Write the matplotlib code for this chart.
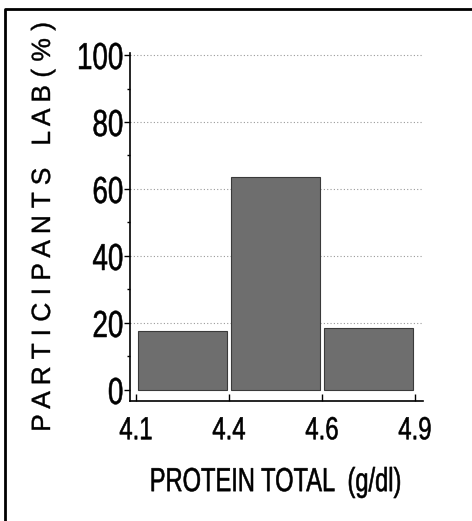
import numpy as np
import matplotlib
matplotlib.use("Agg")
import matplotlib.pyplot as plt
from matplotlib.lines import Line2D
from matplotlib.ticker import MultipleLocator
from matplotlib.patheffects import AbstractPathEffect
from matplotlib.transforms import Affine2D

# histogram of participant labs (%)
bin_edges = ["4.1", "4.4", "4.6", "4.9"]
percent = [17.6, 63.6, 18.5]
y_ticks = [0, 20, 40, 60, 80, 100]


class Narrow(AbstractPathEffect):
    """squeeze text horizontally (narrow typeface look), with a slightly heavier stroke"""

    def __init__(self, sx, anchor="center", lw=0.4):
        super().__init__()
        self.sx = sx
        self.anchor = anchor
        self.lw = lw

    def draw_path(self, renderer, gc, tpath, affine, rgbFace=None):
        ext = tpath.get_extents()
        if self.anchor == "right":
            cx = ext.x1
        elif self.anchor == "left":
            cx = ext.x0
        else:
            cx = (ext.x0 + ext.x1) / 2
        squeeze = Affine2D().translate(-cx, 0).scale(self.sx, 1).translate(cx, 0)
        gc0 = renderer.new_gc()
        gc0.copy_properties(gc)
        gc0.set_linewidth(self.lw)
        if rgbFace is not None:
            gc0.set_foreground(rgbFace)
        renderer.draw_path(gc0, tpath, squeeze + affine, rgbFace)
        gc0.restore()


font = "Liberation Sans"

fig = plt.figure(figsize=(4.72, 5.21), dpi=100)
ax = fig.add_axes([130 / 472, 1 - 401 / 521, 293 / 472, 348 / 521])

centers = np.arange(len(percent)) + 0.5
ax.bar(centers, percent, width=0.95, color="#6e6e6e", edgecolor="#3a3a3a",
       linewidth=0.8, zorder=3)

ax.set_xlim(-0.065, 3.086)
ax.set_ylim(-3.3, 100.6)

ax.set_xticks(np.arange(len(bin_edges)))
ax.set_xticklabels(bin_edges, fontfamily=font, fontsize=23,
                   path_effects=[Narrow(0.75)])
ax.set_yticks(y_ticks)
ax.set_yticklabels([str(v) for v in y_ticks], fontfamily=font, fontsize=27,
                   path_effects=[Narrow(0.74, "right")])
ax.yaxis.set_minor_locator(MultipleLocator(10))

ax.tick_params(axis="x", direction="in", length=5, width=1, pad=11)
ax.tick_params(axis="y", which="major", direction="out", length=4.5, width=1, pad=0)
ax.tick_params(axis="y", which="minor", direction="out", length=2.5, width=1)

ax.grid(axis="y", which="major", linestyle=(0, (1, 2)), color="#9a9a9a",
        linewidth=0.8, zorder=0)
ax.yaxis.get_gridlines()[0].set_visible(False)

for side in ["top", "right"]:
    ax.spines[side].set_visible(False)
ax.spines["left"].set_linewidth(1.2)
ax.spines["bottom"].set_linewidth(1.2)

ax.set_xlabel("PROTEIN TOTAL  (g/dl)", fontfamily=font, fontsize=24,
              path_effects=[Narrow(0.71)])
ax.xaxis.set_label_coords(0.497, -0.19)
ax.set_ylabel("P A R T I C I P A N T S   L A B ( % )", fontfamily=font, fontsize=19,
              path_effects=[Narrow(1.0, lw=0.3)])
ax.yaxis.label.set_va("center")
ax.yaxis.set_label_coords(-0.297, 0.5)

# outer frame of the scanned page
fig.add_artist(Line2D([5 / 472, 5 / 472, 1], [0, 1 - 8.5 / 521, 1 - 8.5 / 521],
                      transform=fig.transFigure, color="black", linewidth=2))

fig.savefig("out.png", dpi=100)
